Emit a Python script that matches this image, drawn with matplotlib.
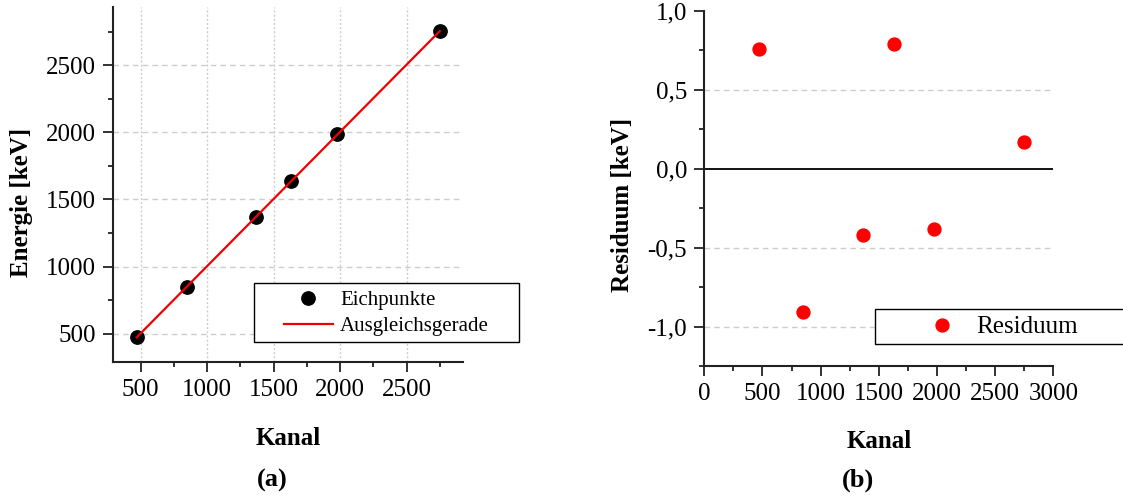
import matplotlib
matplotlib.use("Agg")
import matplotlib.pyplot as plt
from matplotlib.ticker import MultipleLocator, FuncFormatter
from matplotlib.patches import Rectangle

# ---- data ----
kanal = [470, 848, 1367, 1629, 1977, 2748]
energie = [473, 850, 1370, 1638, 1986, 2754]
fit_kanal = [470, 2748]
fit_energie = [473, 2754]
residuum = [0.76, -0.91, -0.42, 0.79, -0.38, 0.17]

x_ticks_a = [500, 1000, 1500, 2000, 2500]
y_ticks_a = [500, 1000, 1500, 2000, 2500]
x_ticks_b = [0, 500, 1000, 1500, 2000, 2500, 3000]
y_ticks_b = [-1.0, -0.5, 0.0, 0.5, 1.0]

plt.rcParams['font.family'] = ['Liberation Serif', 'DejaVu Serif']

W, H = 1123, 497
fig = plt.figure(figsize=(W / 100, H / 100), dpi=100)


def fx(px):
    return px / W


def fy(py):
    return 1 - py / H


ax1 = fig.add_axes([fx(113), fy(362), 350 / W, 355 / H])
ax2 = fig.add_axes([fx(704.3), fy(366), 349 / W, 355.3 / H])

spine_c = '#222222'
for ax in (ax1, ax2):
    ax.spines['top'].set_visible(False)
    ax.spines['right'].set_visible(False)
    for s in ('left', 'bottom'):
        ax.spines[s].set_linewidth(1.5)
        ax.spines[s].set_color(spine_c)
    ax.tick_params(which='major', direction='out', length=7.5, width=1.3,
                   color=spine_c, labelsize=18, pad=5)
    ax.tick_params(which='minor', direction='out', length=3.8, width=1.3,
                   color=spine_c)

# ---- (a) ----
ax1.set_xlim(292, 2923)
ax1.set_ylim(289, 2934)
ax1.set_xticks(x_ticks_a)
ax1.set_yticks(y_ticks_a)
ax1.xaxis.set_minor_locator(MultipleLocator(250))
ax1.yaxis.set_minor_locator(MultipleLocator(250))
ax1.grid(True, which='major', axis='y', color='#cccccc', linestyle=(0, (4, 3)), linewidth=1.0)
ax1.grid(True, which='major', axis='x', color='#cccccc', linestyle=(0, (1.5, 1.5)), linewidth=1.0)
ax1.set_axisbelow(True)
ax1.plot(kanal, energie, 'o', color='black', markersize=9.6, label='Eichpunkte', zorder=3)
ax1.plot(fit_kanal, fit_energie, '-', color='#f00000', linewidth=1.6, label='Ausgleichsgerade', zorder=4)
ax1.set_xlabel('Kanal', fontsize=18, fontweight='bold')
ax1.set_ylabel('Energie [keV]', fontsize=18, fontweight='bold')
ax1.xaxis.set_label_coords(0.5, -(427 - 362) / 355)
ax1.yaxis.set_label_coords(-(113 - 33) / 350, 1 - (202 - 7) / 355)

# legend frame (a)
fig.patches.append(Rectangle((fx(253.7), fy(342.3)), (519 - 253.7) / W, (342.3 - 282.7) / H,
                             transform=fig.transFigure, fill=True, facecolor='white',
                             edgecolor='black', linewidth=1.0, zorder=5))
leg1 = fig.legend(handles=ax1.get_lines(), loc='center left',
                  bbox_to_anchor=(fx(284), fy(313.5)), bbox_transform=fig.transFigure,
                  fontsize=15, frameon=False, borderpad=0, borderaxespad=0,
                  handlelength=2.35, handletextpad=0.35, labelspacing=0.3)
leg1.set_zorder(6)

# ---- (b) ----
ax2.set_xlim(0, 3000)
ax2.set_ylim(-1.25, 1.0)
ax2.set_xticks(x_ticks_b)
ax2.set_yticks(y_ticks_b)
ax2.xaxis.set_minor_locator(MultipleLocator(250))
ax2.yaxis.set_minor_locator(MultipleLocator(0.25))
ax2.yaxis.set_major_formatter(FuncFormatter(lambda v, p: f"{v:.1f}".replace('.', ',')))
for yv in (0.5, -0.5, -1.0):
    ax2.axhline(yv, color='#cccccc', linestyle=(0, (4, 3)), linewidth=1.0, zorder=0)
ax2.axhline(0.0, color='black', linewidth=1.3, zorder=1)
ax2.plot(kanal, residuum, 'o', color='#ff0000', markersize=9.3, label='Residuum', zorder=3)
ax2.set_xlabel('Kanal', fontsize=18, fontweight='bold')
ax2.set_ylabel('Residuum [keV]', fontsize=18, fontweight='bold')
ax2.xaxis.set_label_coords(0.5, -(430 - 366) / 355.3)
ax2.yaxis.set_label_coords(-(704.3 - 634) / 349, 1 - (205 - 10.7) / 355.3)

# legend frame (b)
fig.patches.append(Rectangle((fx(874.7), fy(344)), (1140 - 874.7) / W, (344 - 308.7) / H,
                             transform=fig.transFigure, fill=True, facecolor='white',
                             edgecolor='black', linewidth=1.0, zorder=5))
leg2 = fig.legend(handles=ax2.get_lines()[-1:], loc='center left',
                  bbox_to_anchor=(fx(916.7), fy(327)), bbox_transform=fig.transFigure,
                  fontsize=18, frameon=False, borderpad=0, borderaxespad=0,
                  handlelength=2.0, handletextpad=0.4)
leg2.set_zorder(6)

# captions
fig.text(fx(272), fy(480), '(a)', ha='center', va='center', fontsize=19, fontweight='bold')
fig.text(fx(858), fy(480), '(b)', ha='center', va='center', fontsize=19, fontweight='bold')

fig.savefig('out.png', dpi=100)
